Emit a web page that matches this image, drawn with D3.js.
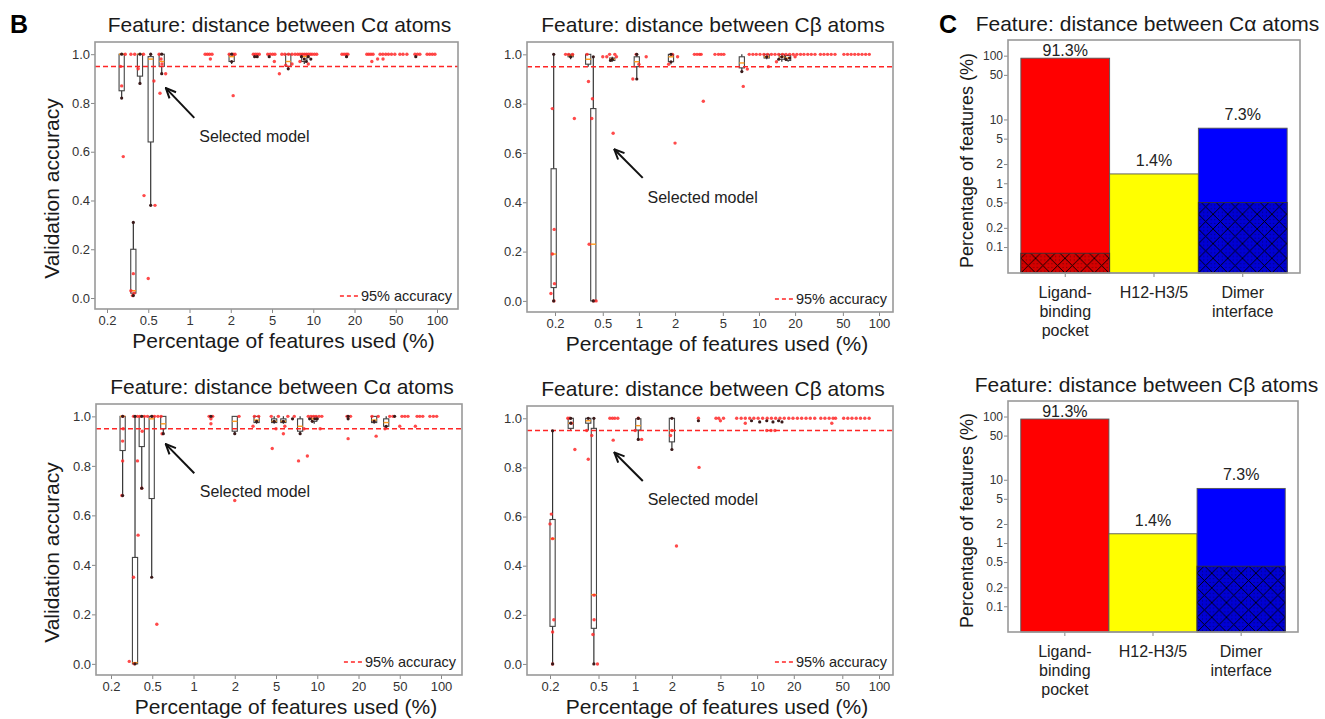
<!DOCTYPE html>
<html><head><meta charset="utf-8">
<script src="https://cdn.jsdelivr.net/npm/d3@7"></script>
<style>body{margin:0;background:#fff}svg{display:block}</style>
</head><body><script>
// ================= DATA =================
const accTicks = [0, 0.2, 0.4, 0.6, 0.8, 1.0];
const pctTicks = [0.2, 0.5, 1, 2, 5, 10, 20, 50, 100];
const threshold = 0.95;

// boxes: [x (% of features), lower whisker, Q1, median, Q3, upper whisker]
const caTopBoxes = [
 [0.277,0.82,0.85,1.00,1.00,1.00],[0.359,0.01,0.02,0.03,0.20,0.31],[0.416,0.88,0.91,1.00,1.00,1.00],
 [0.521,0.38,0.64,0.98,0.99,1.00],[0.627,0.92,0.95,0.97,1.00,1.00],[2.04,0.96,0.97,0.99,1.00,1.00],
 [6.57,0.94,0.95,0.97,1.00,1.00],[8.6,0.96,0.97,0.99,1.00,1.00]
];
const caTopRed = [
 [0.277,0.87],[0.287,0.58],[0.27,0.95],[0.34,0.03],[0.359,0.10],[0.352,0.01],[0.365,0.02],[0.455,0.42],[0.50,0.08],
 [0.56,0.38],[0.55,0.89],[0.609,0.84],[0.67,0.92],[0.63,0.96],[0.62,0.98],[0.40,0.94],[2.11,0.83],[5.66,0.92],
 [5.2,0.97],[29.4,0.97],[33.4,0.98],[37.7,0.98],[1.42,0.98],[7.0,0.96],[8.0,0.97],[9.2,0.96],[6.3,0.955],
 [0.30,1],[0.34,1],[0.37,1],[0.45,1],[0.6,1],[1.3,1],[1.35,1],[1.4,1],[1.46,1],[1.95,1],[2.1,1],[2.2,1],
 [3.3,1],[3.45,1],[3.6,1],[3.77,1],[4.55,1],[4.8,1],[5.05,1],[5.25,1],[5.9,1],[6.2,1],[6.6,1],[7.0,1],[7.37,1],
 [7.7,1],[8.0,1],[8.3,1],[8.6,1],[8.9,1],[9.2,1],[9.5,1],[9.8,1],[10.2,1],[10.6,1],[16.2,1],[16.8,1],[17.4,1],[17.9,1],
 [26.3,1],[27.5,1],[28.8,1],[30.2,1],[35.3,1],[37.5,1],[40,1],[42.5,1],[45.5,1],[49,1],[53.6,1],[56.5,1],[60.3,1],
 [69,1],[72,1],[75,1],[84.7,1],[88.5,1],[92.5,1],[96.6,1]
];
const caTopBlack = [
 [0.277,0.82],[0.277,1.0],[0.359,0.31],[0.359,0.01],[0.416,0.88],[0.416,1.0],[0.521,1.0],[0.521,0.38],[0.627,0.92],
 [0.627,1.0],[2.04,0.97],[2.04,1.0],[3.4,0.99],[3.6,0.99],[4.7,0.99],[6.57,0.94],[8.2,0.99],[8.6,0.98],[8.9,0.97],
 [9.2,0.99],[9.6,0.98],[17.5,0.99],[70,0.99]
];

const cbTopBoxes = [
 [0.195,0.00,0.054,0.19,0.536,1.00],[0.27,0.98,0.99,0.995,1.00,1.00],[0.378,0.95,0.96,0.98,1.00,1.00],
 [0.417,0.00,0.00,0.23,0.78,0.99],[0.60,0.97,0.975,0.98,0.985,0.99],[0.96,0.90,0.95,0.97,0.99,1.00],
 [1.85,0.96,0.97,0.99,1.00,1.00],[7.2,0.93,0.945,0.965,0.99,1.00],[11.6,0.98,0.985,0.99,1.00,1.00],
 [15.5,0.97,0.98,0.99,1.00,1.00],[17.5,0.97,0.975,0.985,0.995,1.00]
];
const cbTopRed = [
 [0.19,0.78],[0.197,0.29],[0.19,0.19],[0.198,0.07],[0.185,0.03],[0.196,0.0],[0.29,0.74],[0.38,0.89],[0.41,0.82],
 [0.405,0.74],[0.385,0.23],[0.42,0.0],[0.44,0.0],[0.61,0.68],[0.89,0.90],[2.0,0.64],[3.44,0.81],[7.4,0.87],[12,0.95],
 [8.0,0.94],[0.5,0.99],[0.54,0.99],[0.65,0.99],[1.15,0.99],[2.1,0.99],[1.0,0.96],[1.77,0.96],[14,0.97],[20,0.99],
 [0.245,1],[0.26,1],[0.28,1],[0.37,1],[0.57,1],[0.63,1],[0.95,1],[1.9,1],[2.9,1],[3.05,1],[3.2,1],[3.3,1],
 [4.3,1],[4.6,1],[4.85,1],[5.1,1],[8.3,1],[8.9,1],[9.5,1],[10.2,1],[11,1],[11.8,1],[12.7,1],[13.6,1],[14.6,1],
 [15.7,1],[16.8,1],[18,1],[19.3,1],[20.7,1],[22.2,1],[23.7,1],[25.5,1],[27.3,1],[29.3,1],[32.5,1],[34.8,1],
 [37.3,1],[40,1],[43,1],[51,1],[54.7,1],[58.6,1],[62.8,1],[67.3,1],[72.2,1],[77.4,1],[83,1]
];
const cbTopBlack = [
 [0.195,1.0],[0.195,0.0],[0.27,0.99],[0.417,0.0],[0.417,0.99],[0.6,0.98],[0.58,0.975],[0.96,0.9],[0.96,1.0],
 [1.85,1.0],[1.85,0.97],[7.2,0.93],[11.6,0.99],[14.6,0.98],[15.5,0.99],[16.8,0.98],[18,0.985]
];

const caBotBoxes = [
 [0.259,0.68,0.862,1.00,1.00,1.00],[0.341,0.00,0.00,0.005,0.43,1.00],[0.396,0.71,0.878,1.00,1.00,1.00],
 [0.494,0.35,0.668,0.99,1.00,1.00],[0.602,0.93,0.95,0.97,1.00,1.00],[2.0,0.93,0.94,0.98,1.00,1.00],
 [3.25,0.97,0.975,0.985,1.00,1.00],[4.8,0.97,0.975,0.98,0.99,1.00],[5.66,0.97,0.975,0.98,0.99,1.00],
 [7.5,0.93,0.94,0.96,0.99,1.00],[9.5,0.97,0.98,0.99,1.00,1.00],[28.3,0.97,0.975,0.985,1.00,1.00],
 [37,0.95,0.96,0.975,0.99,1.00]
];
const caBotRed = [
 [0.259,0.90],[0.259,0.82],[0.255,0.68],[0.262,0.95],[0.33,0.35],[0.30,0.01],[0.335,0.0],[0.36,0.82],[0.365,0.52],
 [0.396,0.71],[0.40,0.94],[0.54,0.16],[0.59,0.93],[2.0,0.66],[1.34,0.99],[4.6,0.87],[5.66,0.93],[7.3,0.82],[8.47,0.84],
 [16.8,0.91],[29.6,0.92],[50,0.96],[65,0.96],[36,0.95],[1.34,0.97],[5.0,0.95],[5.8,0.96],[8,0.95],[10.5,0.95],[3.0,0.96],
 [0.26,1],[0.33,1],[0.36,1],[0.38,1],[0.42,1],[0.45,1],[0.5,1],[0.52,1],[0.55,1],[0.58,1],[1.3,1],[1.38,1],[2.2,1],
 [3.1,1],[3.4,1],[4.5,1],[5.2,1],[6.1,1],[6.8,1],[8.6,1],[9,1],[9.4,1],[9.8,1],[10.3,1],[10.8,1],[16.5,1],[17.5,1],
 [27,1],[31,1],[40,1],[43,1],[51.9,1],[54.5,1],[57.4,1],[66.9,1],[70,1],[73.6,1],[83,1],[88,1],[93,1]
];
const caBotBlack = [
 [0.259,0.68],[0.259,1.0],[0.341,0.0],[0.341,1.0],[0.396,0.71],[0.396,1.0],[0.494,0.35],[0.494,1.0],[0.602,0.93],
 [2.0,0.93],[1.34,1.0],[3.25,0.98],[4.8,0.98],[5.66,0.98],[6.6,0.99],[7.5,0.93],[8.8,0.99],[9.2,0.98],[9.6,0.99],
 [10,0.99],[16.8,0.99],[16.8,1.0],[28.3,0.98],[37,0.96],[44.6,1.0]
];

const cbBotBoxes = [
 [0.21,0.00,0.153,0.51,0.588,0.949],[0.296,0.95,0.959,0.98,1.00,1.00],[0.412,0.95,0.98,0.99,1.00,1.00],
 [0.458,0.00,0.145,0.282,0.959,1.00],[1.06,0.914,0.952,0.97,0.998,1.00],[2.0,0.873,0.904,0.95,1.00,1.00]
];
const cbBotRed = [
 [0.205,0.61],[0.2,0.57],[0.21,0.51],[0.215,0.18],[0.21,0.13],[0.21,0.0],[0.32,0.873],[0.30,0.98],[0.412,0.833],
 [0.40,0.95],[0.44,0.93],[0.46,0.28],[0.46,0.18],[0.45,0.12],[0.49,0.0],[0.66,0.911],[1.13,0.914],[1.0,0.95],
 [1.95,0.93],[2.0,0.95],[2.18,0.48],[3.34,0.80],[5.0,0.99],[12,0.95],[13,0.95],[14,0.95],[41,0.98],[8,0.98],
 [0.28,1],[0.29,1],[0.62,1],[0.65,1],[0.68,1],[0.72,1],[1.06,1],[3.3,1],[4.6,1],[4.85,1],[5.3,1],
 [6.8,1],[7.4,1],[8.0,1],[8.7,1],[9.4,1],[10.2,1],[11.1,1],[12.1,1],[13.1,1],[14.2,1],[15.4,1],[16.7,1],[18.2,1],
 [19.7,1],[21.4,1],[23.2,1],[25.2,1],[27.3,1],[29.7,1],[33.3,1],[36,1],[39,1],[42,1],[44,1],
 [51.3,1],[55.5,1],[60,1],[65,1],[70.5,1],[76.5,1],[83,1]
];
const cbBotBlack = [
 [0.21,0.0],[0.21,0.949],[0.296,0.98],[0.296,1.0],[0.412,1.0],[0.458,0.0],[0.458,1.0],[1.06,0.914],[1.06,1.0],
 [2.0,0.873],[2.0,1.0],[3.3,0.99],[9,0.99],[10.5,0.985],[12,0.99],[13.5,0.985],[15,0.99],[16,0.985]
];

// "Selected model" annotation anchors in data units [x %, accuracy]
const caTopNote = {head:[0.672,0.861], tail:[1.084,0.739], label:[1.178,0.663]};
const cbTopNote = {head:[0.623,0.615], tail:[1.076,0.499], label:[1.18,0.418]};
const caBotNote = {head:[0.627,0.888], tail:[1.013,0.77], label:[1.11,0.695]};
const cbBotNote = {head:[0.674,0.861], tail:[1.154,0.745], label:[1.266,0.671]};

// Panel C
const regionLines = [["Ligand-","binding","pocket"],["H12-H3/5"],["Dimer","interface"]];
const regionColors = ["#ff0000","#ffff00","#0000ff"];
const regionHatchColors = ["#d40000","#d4d400","#0000d4"];
const caShare = [91.3, 1.4, 7.3];
const caShareHatched = [0.08, 0, 0.5];
const cbShare = [91.3, 1.4, 7.3];
const cbShareHatched = [0, 0, 0.43];
const shareTicks = [0.1, 0.2, 0.5, 1, 2, 5, 10, 50, 100];

// ================= DRAW =================
const FONT = "'Liberation Sans', Arial, Helvetica, sans-serif";
const svg = d3.select("body").append("svg").attr("width",1325).attr("height",719)
  .style("font-family", FONT);
const defs = svg.append("defs");
defs.append("marker").attr("id","arrow").attr("markerUnits","userSpaceOnUse")
  .attr("viewBox","0 0 12 12").attr("refX",11).attr("refY",6)
  .attr("markerWidth",12).attr("markerHeight",12).attr("orient","auto")
  .append("path").attr("d","M1,1.5 L11,6 L1,10.5").attr("fill","none")
  .attr("stroke","#111").attr("stroke-width",2);

const CA = "Feature: distance between C\u03b1 atoms";
const CB = "Feature: distance between C\u03b2 atoms";

const scatterPanels = [
 {title:CA, f:{x:95,y:42,w:363,h:267}, even:true, padL:12, padR:21, yTitle:true, boxes:caTopBoxes, red:caTopRed, black:caTopBlack, note:caTopNote},
 {title:CB, f:{x:527,y:42,w:366,h:270}, even:false, padL:28, padR:14, yTitle:false, boxes:cbTopBoxes, red:cbTopRed, black:cbTopBlack, note:cbTopNote},
 {title:CA, f:{x:96,y:404,w:366,h:271}, even:true, padL:15, padR:21, yTitle:true, boxes:caBotBoxes, red:caBotRed, black:caBotBlack, note:caBotNote},
 {title:CB, f:{x:527,y:406,w:366,h:269}, even:false, padL:23, padR:14, yTitle:false, boxes:cbBotBoxes, red:cbBotRed, black:cbBotBlack, note:cbBotNote}
];

function drawScatter(p){
  const f = p.f, g = svg.append("g");
  const x0 = f.x + p.padL, x1 = f.x + f.w - p.padR;
  const n = pctTicks.length;
  const x = p.even
    ? d3.scaleLog().domain(pctTicks).range(pctTicks.map((d,i)=> x0 + i*(x1-x0)/(n-1)))
    : d3.scaleLog().domain([pctTicks[0], pctTicks[n-1]]).range([x0,x1]);
  const y = d3.scaleLinear().domain([-0.045, 1.05]).range([f.y+f.h, f.y]);

  const ya = g.append("g").attr("transform",`translate(${f.x},0)`)
    .call(d3.axisLeft(y).tickValues(accTicks).tickFormat(d3.format(".1f")).tickSize(4).tickPadding(1));
  const xa = g.append("g").attr("transform",`translate(0,${f.y+f.h})`)
    .call(d3.axisBottom(x).tickValues(pctTicks).tickFormat(d=>String(d)).tickSize(4).tickPadding(3));
  [ya,xa].forEach(a=>{
    a.select(".domain").remove();
    a.selectAll(".tick line").attr("stroke","#888");
    a.selectAll(".tick text").attr("fill","#333").style("font-size","13px").style("font-family",FONT);
  });

  g.selectAll(".wh").data(p.boxes).join("line")
    .attr("x1",d=>x(d[0])).attr("x2",d=>x(d[0])).attr("y1",d=>y(d[1])).attr("y2",d=>y(d[5]))
    .attr("stroke","#333").attr("stroke-width",1.2);
  g.selectAll(".bx").data(p.boxes).join("rect")
    .attr("x",d=>x(d[0])-2.6).attr("width",5.2)
    .attr("y",d=>y(d[4])).attr("height",d=>Math.max(1.2, y(d[2])-y(d[4])))
    .attr("fill","#fff").attr("stroke","#444").attr("stroke-width",1.1);
  g.selectAll(".md").data(p.boxes).join("line")
    .attr("x1",d=>x(d[0])-2.6).attr("x2",d=>x(d[0])+2.6).attr("y1",d=>y(d[3])).attr("y2",d=>y(d[3]))
    .attr("stroke","#ff9a1a").attr("stroke-width",1.4);

  g.append("line").attr("x1",f.x).attr("x2",f.x+f.w).attr("y1",y(threshold)).attr("y2",y(threshold))
    .attr("stroke","#ff2525").attr("stroke-width",1.5).attr("stroke-dasharray","5,3");

  g.selectAll(".rp").data(p.red).join("circle")
    .attr("cx",d=>x(d[0])).attr("cy",d=>y(d[1])).attr("r",1.7)
    .attr("fill","#ff2a2a").attr("fill-opacity",0.85);
  g.selectAll(".bp").data(p.black).join("circle")
    .attr("cx",d=>x(d[0])).attr("cy",d=>y(d[1])).attr("r",1.6)
    .attr("fill","#3a1a1a");

  g.append("rect").attr("x",f.x).attr("y",f.y).attr("width",f.w).attr("height",f.h)
    .attr("fill","none").attr("stroke","#999").attr("stroke-width",1.6);

  const nt = p.note;
  g.append("line").attr("x1",x(nt.tail[0])).attr("y1",y(nt.tail[1]))
    .attr("x2",x(nt.head[0])).attr("y2",y(nt.head[1]))
    .attr("stroke","#111").attr("stroke-width",2).attr("marker-end","url(#arrow)");
  g.append("text").attr("x",x(nt.label[0])).attr("y",y(nt.label[1])).attr("dy","0.35em")
    .attr("fill","#222").style("font-size","16px").text("Selected model");

  const lx = f.x + f.w - 6, ly = f.y + f.h - 13;
  const lt = g.append("text").attr("x",lx).attr("y",ly).attr("dy","0.35em").attr("text-anchor","end")
    .attr("fill","#222").style("font-size","14.5px").text("95% accuracy");
  const tw = lt.node().getComputedTextLength();
  g.append("line").attr("x1",lx-tw-21).attr("x2",lx-tw-3).attr("y1",ly).attr("y2",ly)
    .attr("stroke","#ff2525").attr("stroke-width",1.5).attr("stroke-dasharray","4,3");

  g.append("text").attr("x",f.x+f.w/2+3).attr("y",f.y-10.5).attr("text-anchor","middle")
    .attr("fill","#1a1a1a").style("font-size","21px").text(p.title);
  g.append("text").attr("x",f.x+f.w/2+7).attr("y",f.y+f.h+39).attr("text-anchor","middle")
    .attr("fill","#1a1a1a").style("font-size","21px").text("Percentage of features used (%)");
  if (p.yTitle) {
    g.append("text").attr("transform",`translate(52,${f.y+f.h/2+13}) rotate(-90)`).attr("dy","0.35em")
      .attr("text-anchor","middle").attr("fill","#1a1a1a").style("font-size","21px").text("Validation accuracy");
  }
}
scatterPanels.forEach(drawScatter);

// ---------- Panel C ----------
const barPanels = [
 {id:"ca", title:CA, f:{x:1008,y:40,w:292,h:233}, share:caShare, hatched:caShareHatched},
 {id:"cb", title:CB, f:{x:1008,y:401,w:290,h:231}, share:cbShare, hatched:cbShareHatched}
];

function drawBars(b){
  const f = b.f, g = svg.append("g");
  const idx = d3.range(b.share.length);
  const x = d3.scaleBand().domain(idx).range([f.x, f.x+f.w]).paddingInner(0).paddingOuter(0.145);
  const y = d3.scaleLog().domain([0.0392, 176]).range([f.y+f.h, f.y]);
  const bottom = f.y + f.h;

  idx.forEach(i=>{
    const P = 14.7;
    const pat = defs.append("pattern").attr("id",`h-${b.id}-${i}`).attr("patternUnits","userSpaceOnUse")
      .attr("width",P).attr("height",P).attr("x",x(i)).attr("y",bottom);
    pat.append("rect").attr("width",P).attr("height",P).attr("fill",regionHatchColors[i]);
    for (let a=0;a<4;a++) for (let c=0;c<4;c++)
      pat.append("circle").attr("cx",1.8+a*3.675).attr("cy",1.8+c*3.675).attr("r",0.55).attr("fill","#000").attr("fill-opacity",0.55);
    pat.append("path").attr("d",`M0,0 L${P},${P} M${P},0 L0,${P}`).attr("stroke","#000").attr("stroke-width",0.9);
  });

  g.selectAll(".bar").data(idx).join("rect")
    .attr("x",i=>x(i)).attr("width",x.bandwidth())
    .attr("y",i=>y(b.share[i])).attr("height",i=>bottom - y(b.share[i]))
    .attr("fill",i=>regionColors[i]).attr("stroke","#555").attr("stroke-width",0.9);
  g.selectAll(".hb").data(idx.filter(i=>b.hatched[i]>0)).join("rect")
    .attr("x",i=>x(i)).attr("width",x.bandwidth())
    .attr("y",i=>y(b.hatched[i])).attr("height",i=>bottom - y(b.hatched[i]))
    .attr("fill",i=>`url(#h-${b.id}-${i})`).attr("stroke","#333").attr("stroke-width",0.9);

  g.selectAll(".lbl").data(idx).join("text")
    .attr("x",i=>x(i)+x.bandwidth()/2).attr("y",i=>Math.max(y(b.share[i])-8, f.y+15.5))
    .attr("text-anchor","middle").attr("fill","#222").style("font-size","16px")
    .text(i=>d3.format(".1f")(b.share[i])+"%");

  const ya = g.append("g").attr("transform",`translate(${f.x},0)`)
    .call(d3.axisLeft(y).tickValues(shareTicks).tickFormat(d=>String(d)).tickSize(4).tickPadding(1));
  ya.select(".domain").remove();
  ya.selectAll(".tick line").attr("stroke","#888");
  ya.selectAll(".tick text").attr("fill","#333").style("font-size","12px").style("font-family",FONT);

  g.selectAll(".xt").data(idx).join("line")
    .attr("x1",i=>x(i)+x.bandwidth()/2).attr("x2",i=>x(i)+x.bandwidth()/2)
    .attr("y1",bottom).attr("y2",bottom+4).attr("stroke","#888");
  idx.forEach(i=>{
    regionLines[i].forEach((ln,j)=>{
      g.append("text").attr("x",x(i)+x.bandwidth()/2).attr("y",bottom+25+j*19)
        .attr("text-anchor","middle").attr("fill","#222").style("font-size","16px").text(ln);
    });
  });

  g.append("rect").attr("x",f.x).attr("y",f.y).attr("width",f.w).attr("height",f.h)
    .attr("fill","none").attr("stroke","#999").attr("stroke-width",1.6);

  g.append("text").attr("x",f.x+f.w/2-6.5).attr("y",f.y-9).attr("text-anchor","middle")
    .attr("fill","#1a1a1a").style("font-size","21px").text(b.title);
  g.append("text").attr("transform",`translate(966.7,${f.y+f.h/2+4}) rotate(-90)`).attr("dy","0.35em")
    .attr("text-anchor","middle").attr("fill","#1a1a1a").style("font-size","18px").text("Percentage of features (%)");
}
barPanels.forEach(drawBars);

svg.append("text").attr("x",10).attr("y",33).style("font-size","25px").style("font-weight","bold").attr("fill","#000").text("B");
svg.append("text").attr("x",939).attr("y",33).style("font-size","25px").style("font-weight","bold").attr("fill","#000").text("C");
</script></body></html>
